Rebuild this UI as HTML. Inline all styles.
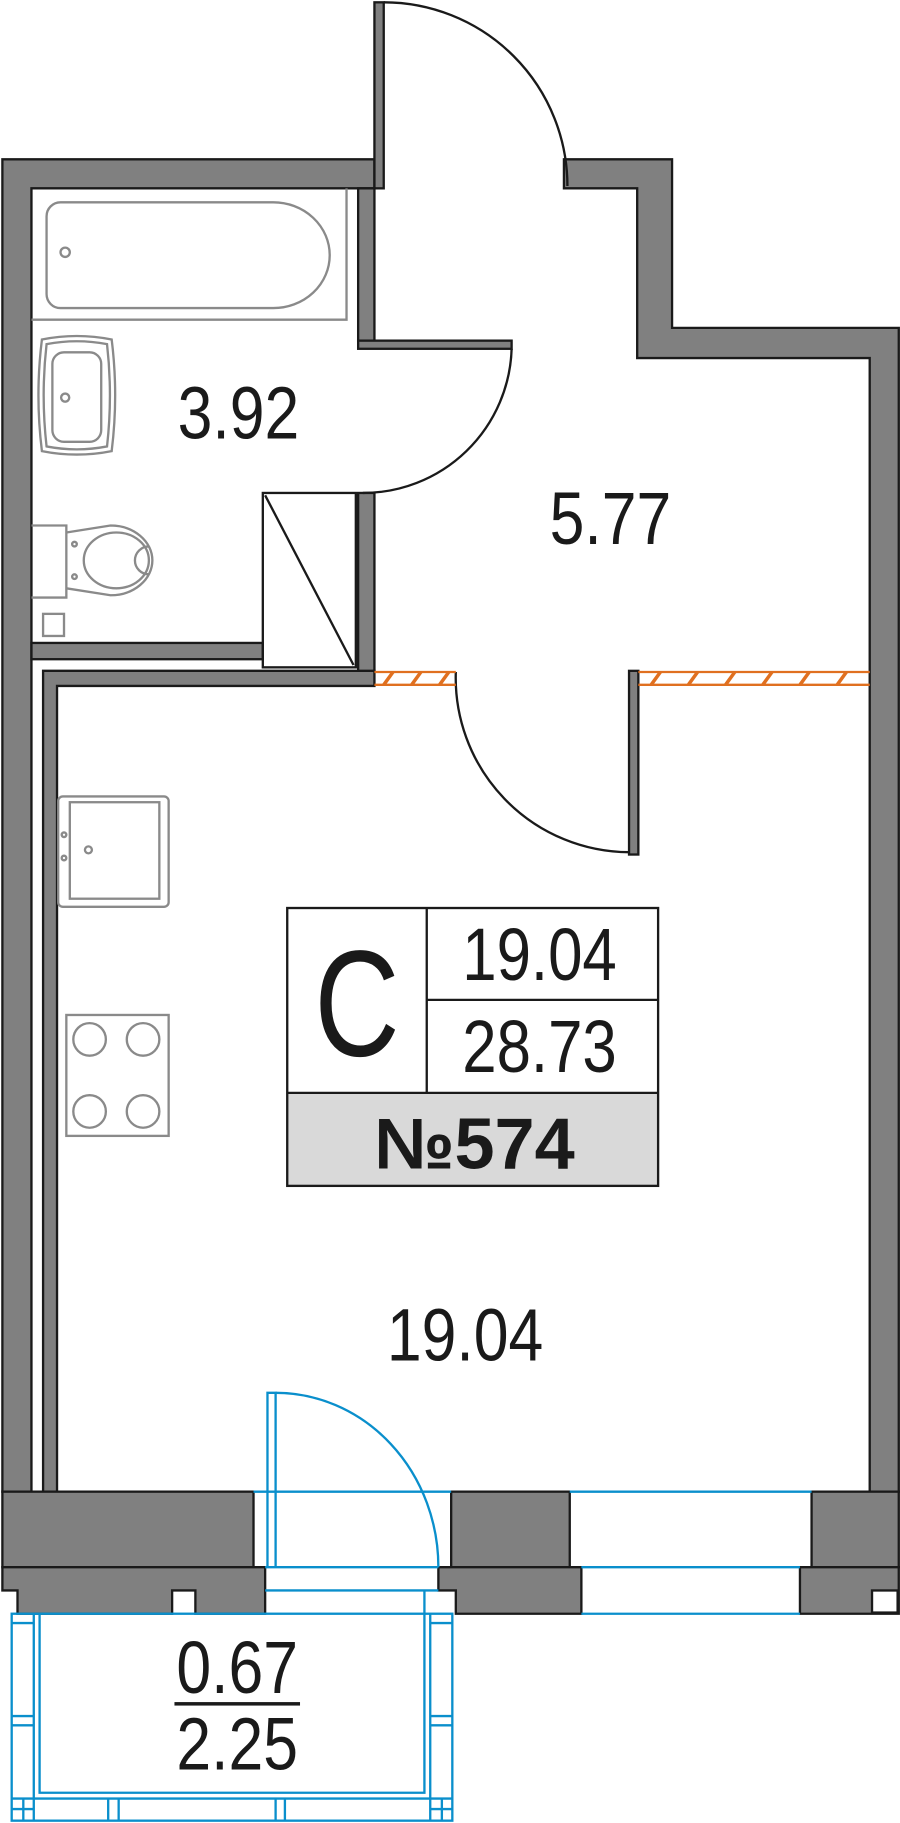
<!DOCTYPE html>
<html><head><meta charset="utf-8"><style>
html,body{margin:0;padding:0;background:#fff;}
svg{display:block;}
text{font-family:"Liberation Sans",sans-serif;fill:#1a1a1a;}
</style></head><body>
<svg width="900" height="1823" viewBox="0 0 774 1568" xmlns="http://www.w3.org/2000/svg">
<g fill="#808080" stroke="#1a1a1a" stroke-width="2">
<path d="M2,137 H322 V162 H27 V1283 H2 Z"/>
<rect x="322" y="2" width="8" height="160"/>
<path d="M485,137 H578 V282 H773 V1283 H748 V308 H548 V162 H485 Z"/>
<rect x="308" y="162" width="14" height="131"/>
<rect x="308" y="293" width="132" height="7"/>
<rect x="308" y="424" width="14" height="154"/>
<rect x="27" y="553" width="199" height="14"/>
<path d="M37,577 H322 V590 H49 V1283 H37 Z"/>
<rect x="541" y="577" width="8" height="158"/>
<rect x="2" y="1283" width="216" height="65"/>
<path d="M2,1348 H228 V1388 H168 V1368 H148 V1388 H15 V1368 H2 Z"/>
<rect x="388" y="1283" width="102" height="65"/>
<path d="M377,1348 H500 V1388 H392 V1368 H377 Z"/>
<rect x="698" y="1283" width="75" height="65"/>
<path d="M688,1348 H773 V1388 H688 Z"/>
</g>
<rect x="750" y="1368" width="22" height="19" fill="#fff" stroke="#1a1a1a" stroke-width="2"/>
<g fill="none" stroke="#1a1a1a" stroke-width="2">
<path d="M330,2 A158,158 0 0 1 488,160"/>
<path d="M440,300 A128,128 0 0 1 312,424"/>
<path d="M392,578 A150,150 0 0 0 541,733"/>
<rect x="226" y="424" width="80" height="150"/>
<line x1="228" y1="426" x2="304" y2="572"/>
</g>
<g stroke="#e07020" stroke-width="3">
<line x1="322" y1="578" x2="392" y2="578" stroke-width="2"/>
<line x1="322" y1="589" x2="392" y2="589" stroke-width="2"/>
<line x1="549" y1="578" x2="748" y2="578" stroke-width="2"/>
<line x1="549" y1="589" x2="748" y2="589" stroke-width="2"/>
<path d="M330,589 L338,578 M354,589 L362,578 M378,589 L386,578 M560,589 L568,578 M592,589 L600,578 M624,589 L632,578 M656,589 L664,578 M688,589 L696,578 M720,589 L728,578"/>
</g>
<g fill="none" stroke="#8a8a8a" stroke-width="2">
<path d="M27,275 H298 V162"/>
<path d="M52,174 H235 A48,45 0 0 1 235,265 H52 A12,12 0 0 1 40,253 V186 A12,12 0 0 1 52,174 Z"/>
<circle cx="56" cy="217" r="4"/>
<path d="M36,292 Q66,286 96,292 Q102,340 96,388 Q66,394 36,388 Q30,340 36,292 Z"/>
<path d="M40,296 Q66,291 92,296 Q97,340 92,384 Q66,389 40,384 Q35,340 40,296 Z"/>
<rect x="45" y="303" width="42" height="77" rx="10"/>
<circle cx="56" cy="342" r="3.5"/>
<path d="M27,452 H57 V514 H27"/>
<path d="M57,458 L95,452 A36,30 0 0 1 95,512 L57,506"/>
<ellipse cx="100" cy="482" rx="28" ry="24"/>
<path d="M128,470 A12,12 0 0 0 128,494"/>
<circle cx="64" cy="468" r="2"/><circle cx="64" cy="496" r="2"/>
<rect x="37" y="528" width="18" height="19"/>
<rect x="50" y="685" width="95" height="95" rx="4"/>
<rect x="60" y="690" width="77" height="83"/>
<circle cx="55" cy="718" r="2"/><circle cx="55" cy="738" r="2"/><circle cx="76" cy="731" r="3"/>
<rect x="57" y="873" width="88" height="104"/>
<circle cx="77" cy="894" r="14"/><circle cx="123" cy="894" r="14"/>
<circle cx="77" cy="956" r="14"/><circle cx="123" cy="956" r="14"/>
</g>
<g fill="none" stroke="#0a8fcc" stroke-width="2">
<path d="M230,1348 V1198 H237 V1348"/>
<path d="M237,1198 A140,150 0 0 1 377,1348"/>
<line x1="218" y1="1283" x2="388" y2="1283"/>
<line x1="228" y1="1348" x2="377" y2="1348"/>
<line x1="228" y1="1368" x2="377" y2="1368"/>
<line x1="490" y1="1283" x2="698" y2="1283"/>
<line x1="500" y1="1348" x2="688" y2="1348"/>
<line x1="500" y1="1388" x2="688" y2="1388"/>
<path d="M365,1368 V1542 H34 V1388"/>
<rect x="10" y="1388" width="379" height="178"/>
<line x1="29" y1="1388" x2="29" y2="1566"/>
<line x1="370" y1="1388" x2="370" y2="1566"/>
<line x1="10" y1="1547" x2="389" y2="1547"/>
<line x1="10" y1="1556" x2="29" y2="1556"/><line x1="370" y1="1556" x2="389" y2="1556"/>
<line x1="20" y1="1547" x2="20" y2="1566"/>
<line x1="380" y1="1547" x2="380" y2="1566"/>
<line x1="93" y1="1547" x2="93" y2="1566"/><line x1="102" y1="1547" x2="102" y2="1566"/>
<line x1="237" y1="1547" x2="237" y2="1566"/><line x1="245" y1="1547" x2="245" y2="1566"/>
<line x1="10" y1="1396" x2="29" y2="1396"/>
<line x1="10" y1="1476" x2="29" y2="1476"/><line x1="10" y1="1484" x2="29" y2="1484"/>
<line x1="370" y1="1396" x2="389" y2="1396"/>
<line x1="370" y1="1476" x2="389" y2="1476"/><line x1="370" y1="1484" x2="389" y2="1484"/>
</g>
<rect x="247" y="940" width="319" height="80" fill="#d9d9d9"/>
<g fill="none" stroke="#1a1a1a" stroke-width="2">
<rect x="247" y="781" width="319" height="239"/>
<line x1="367" y1="781" x2="367" y2="940"/>
<line x1="367" y1="860" x2="566" y2="860"/>
<line x1="247" y1="940" x2="566" y2="940"/>
</g>
<text x="307" y="908" font-size="130" text-anchor="middle" transform="translate(307 0) scale(0.78 1) translate(-307 0)">C</text>
<g font-size="64" text-anchor="middle">
<text x="464" y="843" transform="translate(464 0) scale(0.83 1) translate(-464 0)">19.04</text>
<text x="464" y="922" transform="translate(464 0) scale(0.83 1) translate(-464 0)">28.73</text>
<text x="408" y="1005" font-weight="bold" font-size="62">№574</text>
<text x="205" y="377" transform="translate(205 0) scale(0.84 1) translate(-205 0)">3.92</text>
<text x="525" y="468" transform="translate(525 0) scale(0.84 1) translate(-525 0)">5.77</text>
<text x="400" y="1170" transform="translate(400 0) scale(0.84 1) translate(-400 0)">19.04</text>
<text x="204" y="1456" transform="translate(204 0) scale(0.84 1) translate(-204 0)">0.67</text>
<text x="204" y="1522" transform="translate(204 0) scale(0.84 1) translate(-204 0)">2.25</text>
</g>
<rect x="150" y="1464" width="108" height="3" fill="#1a1a1a"/>
</svg>
</body></html>
